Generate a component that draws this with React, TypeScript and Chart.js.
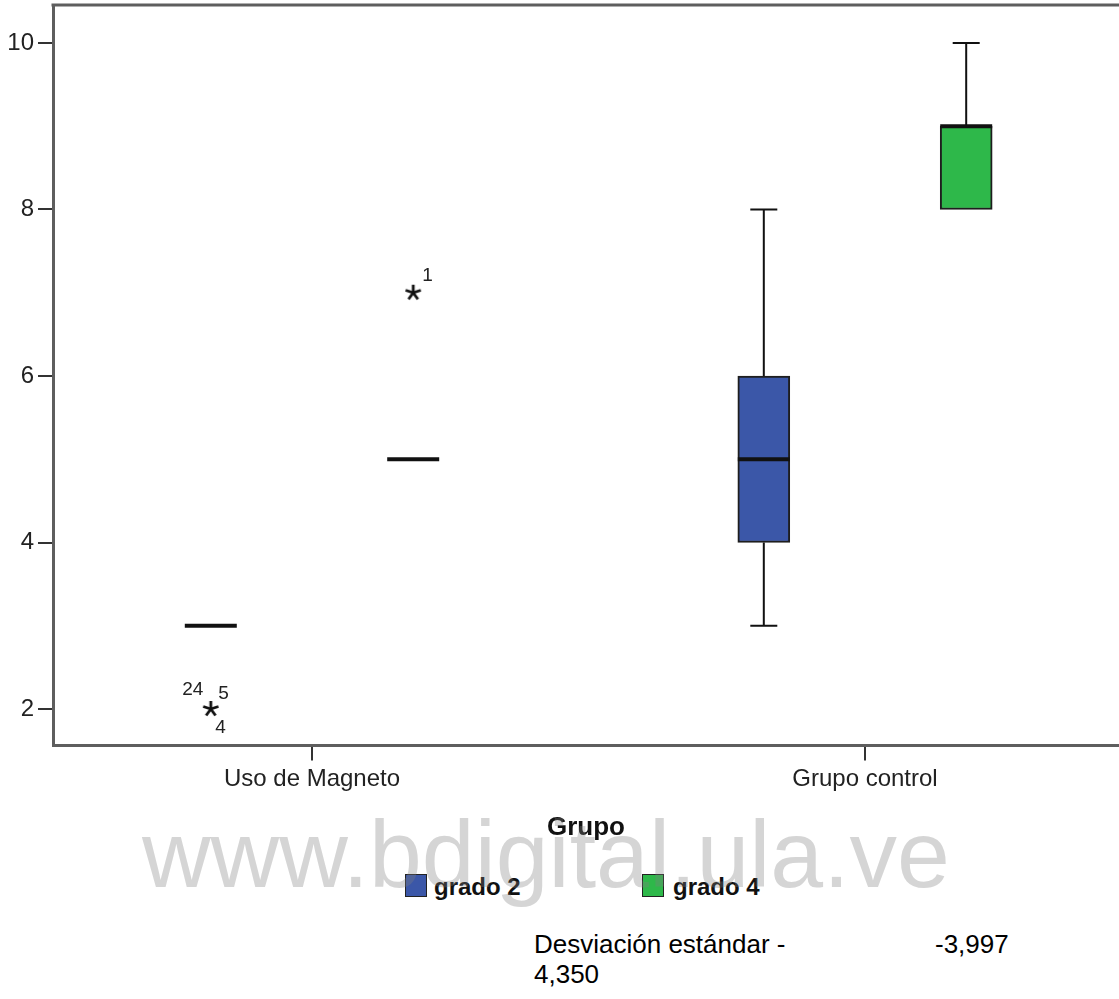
import React, { useEffect, useRef } from 'react';
import { Chart, registerables } from 'chart.js';

Chart.register(...registerables);

// ---------- data ----------
const categories = ['Uso de Magneto', 'Grupo control'];
const seriesNames = ['grado 2', 'grado 4'];
const seriesColors = ['#3b57a8', '#2eb84a'];

const grado2Min = [3, 3];
const grado2Q1 = [3, 4];
const grado2Median = [3, 5];
const grado2Q3 = [3, 6];
const grado2Max = [3, 8];

const grado4Min = [5, 8];
const grado4Q1 = [5, 8];
const grado4Median = [5, 9];
const grado4Q3 = [5, 9];
const grado4Max = [5, 10];

// extreme values (asterisks) per category, with their case labels
const grado2Extremes = [2, null];
const grado2ExtremeCases = [['24', '5', '4'], []];
const grado4Extremes = [7, null];
const grado4ExtremeCases = [['1'], []];

const yTicks = [2, 4, 6, 8, 10];
const xAxisTitle = 'Grupo';
const footerLabel = 'Desviación estándar - 4,350';
const footerValue = '-3,997';
const watermark = 'www.bdigital.ula.ve';

// ---------- layout / style ----------
const FONT = '"Liberation Sans", Arial, Helvetica, sans-serif';
const seriesOffsets = [-0.183, 0.183];
const BOX_W = 52;
const CAP_W = 27;
const labelPlacement: Record<string, string[]> = {
  '0-0': ['upLeft', 'upRight', 'downRight'],
  '1-0': ['upRight'],
};

const series = [
  { name: seriesNames[0], color: seriesColors[0], min: grado2Min, q1: grado2Q1, med: grado2Median, q3: grado2Q3, max: grado2Max, ext: grado2Extremes, cases: grado2ExtremeCases },
  { name: seriesNames[1], color: seriesColors[1], min: grado4Min, q1: grado4Q1, med: grado4Median, q3: grado4Q3, max: grado4Max, ext: grado4Extremes, cases: grado4ExtremeCases },
];

function makeStar(): HTMLCanvasElement {
  const c = document.createElement('canvas');
  c.width = 20;
  c.height = 20;
  const g = c.getContext('2d')!;
  g.strokeStyle = '#111';
  g.lineWidth = 2.8;
  g.lineCap = 'butt';
  for (let k = 0; k < 5; k++) {
    const a = (-90 + k * 72) * Math.PI / 180;
    g.beginPath();
    g.moveTo(10, 10);
    g.lineTo(10 + Math.cos(a) * 8, 10 + Math.sin(a) * 8);
    g.stroke();
  }
  return c;
}

const boxPlugin = {
  id: 'boxExtras',
  beforeDatasetsDraw(chart: any) {
    const { ctx, chartArea } = chart;
    ctx.save();
    ctx.strokeStyle = '#5e5e5e';
    ctx.lineWidth = 3;
    ctx.beginPath();
    ctx.moveTo(chartArea.left - 1.5, chartArea.top);
    ctx.lineTo(chartArea.right, chartArea.top);
    ctx.stroke();
    ctx.restore();
  },
  afterDatasetsDraw(chart: any) {
    const { ctx } = chart;
    const x = chart.scales.x;
    const y = chart.scales.y;
    ctx.save();
    ctx.strokeStyle = '#111';
    series.forEach((s, si) => {
      categories.forEach((_, i) => {
        const px = x.getPixelForValue(i + 1 + seriesOffsets[si]);
        const yMin = y.getPixelForValue(s.min[i]);
        const yQ1 = y.getPixelForValue(s.q1[i]);
        const yMed = y.getPixelForValue(s.med[i]);
        const yQ3 = y.getPixelForValue(s.q3[i]);
        const yMax = y.getPixelForValue(s.max[i]);
        ctx.lineWidth = 2;
        if (s.max[i] > s.q3[i]) {
          ctx.beginPath();
          ctx.moveTo(px, yQ3);
          ctx.lineTo(px, yMax);
          ctx.moveTo(px - CAP_W / 2, yMax);
          ctx.lineTo(px + CAP_W / 2, yMax);
          ctx.stroke();
        }
        if (s.min[i] < s.q1[i]) {
          ctx.beginPath();
          ctx.moveTo(px, yQ1);
          ctx.lineTo(px, yMin);
          ctx.moveTo(px - CAP_W / 2, yMin);
          ctx.lineTo(px + CAP_W / 2, yMin);
          ctx.stroke();
        }
        ctx.lineWidth = 4;
        ctx.beginPath();
        ctx.moveTo(px - BOX_W / 2, yMed);
        ctx.lineTo(px + BOX_W / 2, yMed);
        ctx.stroke();

        const v = s.ext[i];
        if (v !== null && v !== undefined) {
          const py = y.getPixelForValue(v);
          const places = labelPlacement[`${si}-${i}`] || [];
          ctx.fillStyle = '#222';
          ctx.font = `19px ${FONT}`;
          ctx.textBaseline = 'middle';
          s.cases[i].forEach((lab, k) => {
            const p = places[k] || 'upRight';
            if (p === 'upLeft') {
              ctx.textAlign = 'right';
              ctx.fillText(lab, px - 7.5, py - 19);
            } else if (p === 'upRight') {
              ctx.textAlign = 'left';
              ctx.fillText(lab, px + (si === 1 ? 9 : 7.5), py - (si === 1 ? 16.5 : 15));
            } else {
              ctx.textAlign = 'left';
              ctx.fillText(lab, px + 4.5, py + 18.5);
            }
          });
        }
      });
    });
    ctx.restore();
  },
};

function zeroPad(sc: any) {
  sc.paddingTop = 0;
  sc.paddingBottom = 0;
  sc.paddingLeft = 0;
  sc.paddingRight = 0;
}

export default function App() {
  const ref = useRef<HTMLCanvasElement>(null);

  useEffect(() => {
    if (!ref.current) return;
    const star = makeStar();
    const boxDatasets = series.map((s, si) => ({
      type: 'bar' as const,
      label: s.name,
      data: categories.map((_, i) => ({ x: i + 1 + seriesOffsets[si], y: [s.q1[i], s.q3[i]] })),
      backgroundColor: s.color,
      borderColor: '#1e1e1e',
      borderWidth: 2,
      borderSkipped: false,
      grouped: false,
      maxBarThickness: BOX_W,
      barPercentage: 1,
      categoryPercentage: 1,
      order: 2,
    }));
    const extremeDatasets = series.map((s, si) => ({
      type: 'scatter' as const,
      label: s.name + ' extremos',
      data: categories
        .map((_, i) => (s.ext[i] !== null ? { x: i + 1 + seriesOffsets[si], y: s.ext[i] as number } : null))
        .filter((p) => p !== null),
      pointStyle: star,
      pointRadius: 10,
      showLine: false,
      clip: false,
      order: 1,
    }));

    const yMinV = 2 - 36.5 / 83.25;
    const yMaxV = 10 + 38 / 83.25;
    const xMinV = 1 - (312 - 53) / 553;
    const xMaxV = xMinV + (1119 - 53) / 553;

    const chart = new Chart(ref.current, {
      type: 'bar',
      data: { datasets: [...boxDatasets, ...extremeDatasets] as any },
      options: {
        responsive: false,
        animation: false,
        events: [],
        layout: { autoPadding: false, padding: { top: 5, left: 0, right: 0, bottom: 0 } },
        plugins: { legend: { display: false }, tooltip: { enabled: false } },
        scales: {
          x: {
            type: 'linear',
            min: xMinV,
            max: xMaxV,
            offset: false,
            afterBuildTicks: (sc: any) => {
              sc.ticks = categories.map((_, i) => ({ value: i + 1 }));
            },
            afterFit: (sc: any) => {
              sc.height = 843 - 745.5;
              zeroPad(sc);
            },
            ticks: {
              autoSkip: false,
              maxRotation: 0,
              padding: 4,
              color: '#222',
              font: { family: FONT, size: 24 },
              callback: (v: any) => categories[Math.round(v) - 1] ?? '',
            },
            grid: {
              display: true,
              drawOnChartArea: false,
              drawTicks: true,
              tickLength: 15,
              color: '#333',
              lineWidth: 2,
              offset: false,
            },
            border: { display: true, color: '#5e5e5e', width: 3 },
            title: {
              display: true,
              text: xAxisTitle,
              color: '#111',
              font: { family: FONT, size: 26, weight: 'bold' },
              padding: 0,
            },
          },
          y: {
            type: 'linear',
            min: yMinV,
            max: yMaxV,
            afterBuildTicks: (sc: any) => {
              sc.ticks = yTicks.map((v) => ({ value: v }));
            },
            afterFit: (sc: any) => {
              sc.width = 53;
              zeroPad(sc);
            },
            ticks: {
              padding: 4,
              color: '#222',
              font: { family: FONT, size: 24 },
            },
            grid: {
              display: true,
              drawOnChartArea: false,
              drawTicks: true,
              tickLength: 15,
              color: '#333',
              lineWidth: 2,
            },
            border: { display: true, color: '#5e5e5e', width: 3 },
          },
        },
      } as any,
      plugins: [boxPlugin],
    });
    return () => chart.destroy();
  }, []);

  const legendBox = (color: string, left: number) => ({
    position: 'absolute' as const,
    left,
    top: 874,
    width: 22,
    height: 23,
    boxSizing: 'border-box' as const,
    border: '1.5px solid #222',
    background: color,
  });
  const legendText = (left: number) => ({
    position: 'absolute' as const,
    left,
    top: 875,
    font: `bold 24px/24px ${FONT}`,
    color: '#111',
    whiteSpace: 'nowrap' as const,
  });

  return (
    <div style={{ position: 'absolute', left: 0, top: 0, width: 1119, height: 999, overflow: 'hidden', background: '#fff', fontFamily: FONT }}>
      <canvas ref={ref} width={1119} height={843} style={{ position: 'absolute', left: 0, top: 0 }} />
      <div style={legendBox(seriesColors[0], 405)} />
      <div style={legendText(434)}>{seriesNames[0]}</div>
      <div style={legendBox(seriesColors[1], 642)} />
      <div style={legendText(673)}>{seriesNames[1]}</div>
      <div style={{ position: 'absolute', left: 534, top: 929, width: 272, font: `26px/30px ${FONT}`, color: '#000' }}>{footerLabel}</div>
      <div style={{ position: 'absolute', left: 935, top: 929, font: `26px/30px ${FONT}`, color: '#000', whiteSpace: 'nowrap' }}>{footerValue}</div>
      <div style={{ position: 'absolute', left: 142, top: 807, font: `95px/95px ${FONT}`, color: 'rgba(128,128,128,0.33)', whiteSpace: 'nowrap', pointerEvents: 'none' }}>{watermark}</div>
    </div>
  );
}
